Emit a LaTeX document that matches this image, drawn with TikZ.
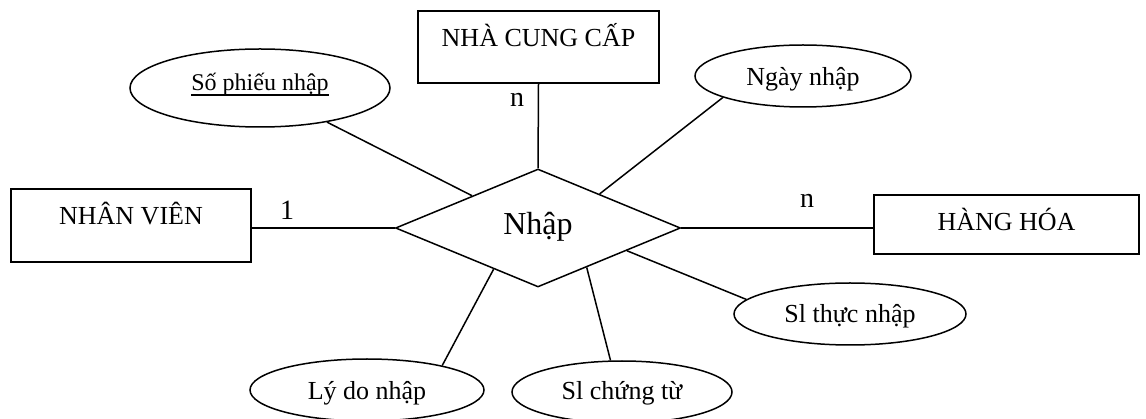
\documentclass[tikz,border=0pt]{standalone}
\usepackage{fontspec}
\setmainfont{Liberation Serif}
\usetikzlibrary{shapes.geometric,calc}
% underline drawn as a rule a fixed distance below the baseline
\newcommand\keyuline[1]{\setbox0\hbox{#1}\rlap{\vrule width\wd0 height -3.4pt depth 4.8pt}\box0}
\begin{document}
\begin{tikzpicture}[x=1pt,y=-1pt,
  lw/.style={line width=1.5pt},
  entity/.style={draw,lw,rectangle,inner sep=0pt,text height=36pt,
    font=\fontsize{26}{30}\selectfont},
  attr/.style={draw,lw,ellipse,inner sep=0pt,text height=20pt,text depth=2pt,
    font=\fontsize{26}{30}\selectfont},
  relation/.style={draw,lw,diamond,inner sep=0pt,minimum width=285pt,
    minimum height=118pt,text height=20pt,text depth=6pt,
    font=\fontsize{32}{36}\selectfont},
  card/.style={anchor=base,inner sep=0pt,font=\fontsize{28}{32}\selectfont},
  link/.style={lw}]
\clip (0,0) rectangle (1146,419);
\fill[white] (0,0) rectangle (1146,419);

% entities
\node[entity,minimum width=241pt,minimum height=72pt,text depth=36pt]
  (ncc) at (538.5,47) {NHÀ CUNG CẤP};
\node[entity,minimum width=240pt,minimum height=73pt,text depth=37pt]
  (nv) at (131,225.5) {NHÂN VIÊN};
\node[entity,minimum width=265pt,minimum height=59pt,text depth=23pt]
  (hh) at (1006.5,224.5) {HÀNG HÓA};

% relationship
\node[relation] (d) at (538,228) {Nhập};

% attributes
\node[attr,minimum width=260pt,minimum height=78pt,text height=14pt,text depth=8pt,
  font=\fontsize{24}{28}\selectfont]
  (sp) at (260,88) {\keyuline{Số phiếu nhập}};
\node[attr,minimum width=216pt,minimum height=62pt,text height=22pt]
  (ng) at (803,76) {Ngày nhập};
\node[attr,minimum width=232pt,minimum height=62pt] (st) at (850,314) {Sl thực nhập};
\node[attr,minimum width=234pt,minimum height=62pt,text height=22pt]
  (ly) at (367,390) {Lý do nhập};
\node[attr,minimum width=220pt,minimum height=62pt,text height=18pt]
  (ct) at (622,392) {Sl chứng từ};

% connectors
\draw[link] (ncc.south) -- (d.north);
\draw[link] (d.west) -- (d.west -| nv.east);
\draw[link] (d.east) -- (d.east -| hh.west);
\draw[link] (sp.-27) -- ($(d.west)!0.54!(d.north)$);
\draw[link] (ng.195) -- ($(d.north)!0.43!(d.east)$);
\draw[link] (st.172) -- ($(d.east)!0.38!(d.south)$);
\draw[link] (ct.110) -- ($(d.east)!0.66!(d.south)$);
\draw[link] (ly.18) -- ($(d.west)!0.69!(d.south)$);

% cardinalities
\node[card] (c1) at (287,220) {1};
\node[card] (c2) at (517,107) {n};
\node[card] (c3) at (807,208) {n};
\end{tikzpicture}
\end{document}
